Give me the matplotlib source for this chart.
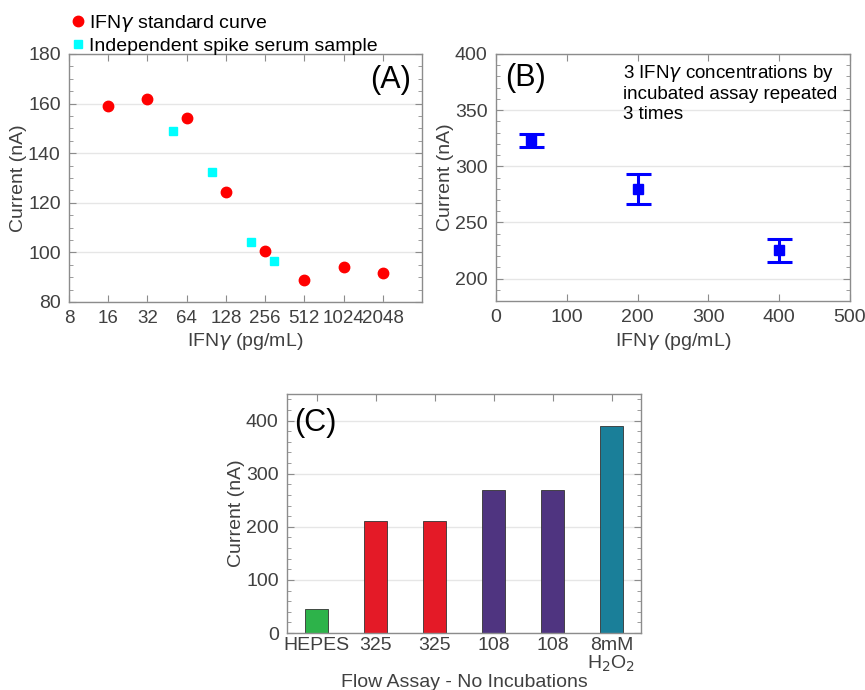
import matplotlib
matplotlib.use("Agg")
import matplotlib.pyplot as plt
from matplotlib.ticker import MultipleLocator, FixedLocator, NullLocator

plt.rcParams['font.family'] = ['Liberation Sans', 'DejaVu Sans']
plt.rcParams['mathtext.fontset'] = 'dejavusans'

# ---- Panel A data ----
std_x = [16, 32, 64, 128, 256, 512, 1024, 2048]
std_y = [159, 162, 154, 124.5, 100.7, 89, 94, 91.5]
spk_x = [50, 100, 200, 300]
spk_y = [149, 132.5, 104.2, 96.7]
a_xticks = [8, 16, 32, 64, 128, 256, 512, 1024, 2048]

# ---- Panel B data ----
b_x = [50, 200, 400]
b_y = [323, 280, 225]
b_err = [6, 13.4, 10.3]

# ---- Panel C data ----
c_labels = ['HEPES', '325', '325', '108', '108', '8mM\nH$_2$O$_2$']
c_vals = [44.5, 210.5, 211.8, 269, 269, 389]
c_colors = ['#2db34a', '#e41a27', '#e41a27', '#4f3480', '#4f3480', '#1a7f99']

TXT = '#404040'
SPINE = '#8c8c8c'
FS = 14

fig = plt.figure(figsize=(8.65, 6.9), dpi=100)

def style(ax):
    for s in ax.spines.values():
        s.set_color(SPINE)
        s.set_linewidth(1.0)
    ax.tick_params(which='both', direction='in', top=True, right=True,
                   colors=SPINE, labelcolor=TXT, labelsize=FS)
    ax.tick_params(which='major', length=5, pad=6)
    ax.tick_params(which='minor', length=3)
    ax.yaxis.grid(True, which='major', color='#e6e6e6', linewidth=1)
    ax.set_axisbelow(True)

# Panel A
axA = fig.add_axes([69/865, 1-302/690, (422-69)/865, (302-54)/690])
style(axA)
axA.set_xscale('log', base=2)
axA.set_xlim(8, 4096)
axA.set_ylim(80, 180)
axA.xaxis.set_major_locator(FixedLocator(a_xticks))
axA.xaxis.set_minor_locator(NullLocator())
axA.set_xticklabels([str(t) for t in a_xticks])
axA.tick_params(axis='x', labelsize=13.5)
axA.yaxis.set_major_locator(MultipleLocator(20))
axA.yaxis.set_minor_locator(MultipleLocator(5))
hA1, = axA.plot(std_x, std_y, 'o', color='#ff0000', markersize=7.5, linestyle='none',
                label=r'IFN$\gamma$ standard curve')
hA2, = axA.plot(spk_x, spk_y, 's', color='#00ffff', markersize=6, linestyle='none',
                label='Independent spike serum sample')
axA.set_xlabel(r'IFN$\gamma$ (pg/mL)', color=TXT, fontsize=FS, labelpad=3)
axA.set_ylabel('Current (nA)', color=TXT, fontsize=FS, labelpad=1)
axA.text(0.97, 0.955, '(A)', transform=axA.transAxes, ha='right', va='top', fontsize=22)
fig.legend(handles=[hA1, hA2], loc='upper left', bbox_to_anchor=(70/865, 1-13/690),
           frameon=False, fontsize=FS, handlelength=0.8, handletextpad=0.2,
           borderpad=0, borderaxespad=0, labelspacing=0.15, markerscale=1.0)

# Panel B
axB = fig.add_axes([496/865, 1-301/690, (850-496)/865, (301-54)/690])
style(axB)
axB.set_xlim(0, 500)
axB.set_ylim(180, 400)
axB.xaxis.set_major_locator(MultipleLocator(100))
axB.yaxis.set_major_locator(MultipleLocator(50))
axB.yaxis.set_minor_locator(MultipleLocator(10))
axB.errorbar(b_x, b_y, yerr=b_err, fmt='s', color='#0000ff', markersize=7,
             elinewidth=2.2, capsize=9, capthick=2.2)
axB.set_xlabel(r'IFN$\gamma$ (pg/mL)', color=TXT, fontsize=FS, labelpad=3)
axB.set_ylabel('Current (nA)', color=TXT, fontsize=FS, labelpad=1)
axB.text(0.025, 0.965, '(B)', transform=axB.transAxes, ha='left', va='top', fontsize=22)
axB.text(0.36, 0.965, '3 IFN$\\gamma$ concentrations by\nincubated assay repeated\n3 times',
         transform=axB.transAxes, ha='left', va='top', fontsize=13.5, linespacing=1.2)

# Panel C
axC = fig.add_axes([287/865, 1-633/690, (641-287)/865, (633-394)/690])
style(axC)
pos = list(range(1, len(c_vals) + 1))
axC.bar(pos, c_vals, width=0.4, color=c_colors, edgecolor='#333333', linewidth=0.6)
axC.set_xlim(0.5, len(c_vals) + 0.5)
axC.set_ylim(0, 450)
axC.set_xticks(pos)
axC.set_xticklabels(c_labels, linespacing=0.95)
axC.yaxis.set_major_locator(MultipleLocator(100))
axC.yaxis.set_minor_locator(MultipleLocator(20))
axC.tick_params(axis='x', which='major', labelsize=FS, pad=3)
axC.set_ylabel('Current (nA)', color=TXT, fontsize=FS, labelpad=1)
axC.set_xlabel('Flow Assay - No Incubations', color=TXT, fontsize=FS, labelpad=0)
axC.text(0.02, 0.94, '(C)', transform=axC.transAxes, ha='left', va='top', fontsize=22)

fig.savefig('out.png', dpi=100)
